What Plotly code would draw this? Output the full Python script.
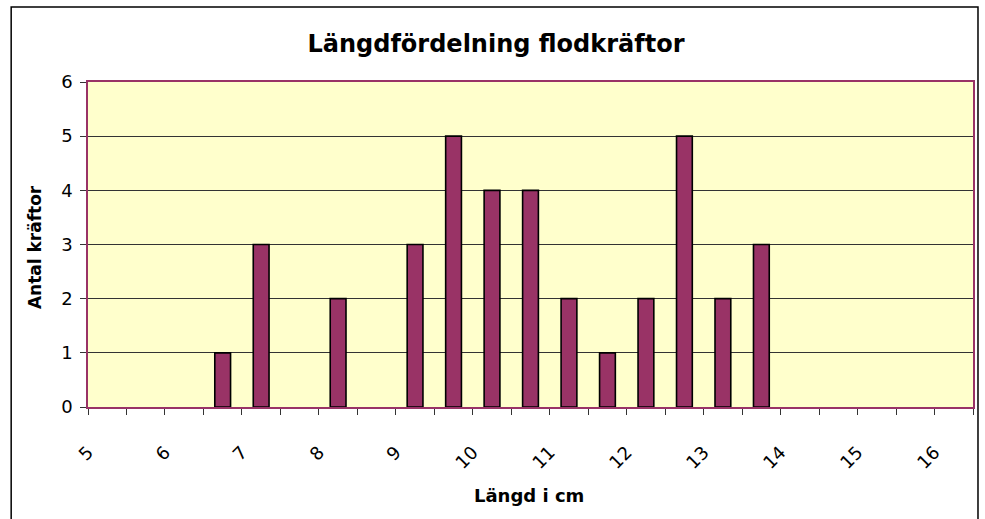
import plotly.graph_objects as go

# Bin start (cm) of each 0.5 cm length class
bin_start = [5.0, 5.5, 6.0, 6.5, 7.0, 7.5, 8.0, 8.5, 9.0, 9.5, 10.0, 10.5,
             11.0, 11.5, 12.0, 12.5, 13.0, 13.5, 14.0, 14.5, 15.0, 15.5, 16.0]
counts = [0, 0, 0, 1, 3, 0, 2, 0, 3, 5, 4, 4,
          2, 1, 2, 5, 2, 3, 0, 0, 0, 0, 0]
x_tick_vals = [5, 6, 7, 8, 9, 10, 11, 12, 13, 14, 15, 16]
x_tick_text = ["5", "6", "7", "8", "9", "10", "11", "12", "13", "14", "15", "16"]
y_ticks = [0, 1, 2, 3, 4, 5, 6]

title_text = "Längdfördelning flodkräftor"
x_title = "Längd i cm"
y_title = "Antal kräftor"

BAR = "#993366"
FONT = "DejaVu Sans"

fig = go.Figure()
fig.add_trace(go.Bar(
    x=bin_start, y=counts,
    width=0.205, offset=0.1475,
    marker=dict(color=BAR,
                line=dict(color="black",
                          width=[1.6 if c > 0 else 0 for c in counts])),
    hoverinfo="x+y",
))

fig.update_layout(
    width=985, height=519,
    margin=dict(l=88, r=10, t=82, b=112),
    paper_bgcolor="white",
    plot_bgcolor="#FFFFCC",
    showlegend=False,
    title=dict(text="<b>" + title_text + "</b>", x=496 / 985, xanchor="center",
               xref="container", y=1 - 44 / 519, yanchor="middle", yref="container",
               font=dict(family=FONT, size=24, color="black")),
    font=dict(family=FONT, color="black"),
)

fig.update_xaxes(
    range=[5, 16.5],
    tickvals=x_tick_vals, ticktext=x_tick_text,
    tickangle=-45,
    ticks="outside", ticklen=6, tickcolor="#333", tickwidth=1,
    minor=dict(dtick=0.5, tick0=5, ticks="outside", ticklen=6, tickcolor="#333", tickwidth=1, showgrid=False),
    ticklabelstandoff=20,
    tickfont=dict(family=FONT, size=18, color="black"),
    showgrid=False, zeroline=False,
    showline=True, mirror=True, linecolor=BAR, linewidth=1.6,
    fixedrange=True,
)
fig.update_yaxes(
    range=[0, 6], tickvals=y_ticks,
    ticks="outside", ticklen=6, tickcolor="#333", tickwidth=1,
    tickfont=dict(family=FONT, size=18, color="black"),
    ticklabelstandoff=4,
    showgrid=True, gridcolor="#333333", gridwidth=1.2,
    zeroline=False,
    showline=True, mirror=True, linecolor=BAR, linewidth=1.6,
    fixedrange=True,
)

# Axis titles
fig.add_annotation(text="<b>" + x_title + "</b>", xref="paper", yref="paper",
                   x=(530 - 88) / 887, y=(407 - 495) / 325, showarrow=False,
                   xanchor="center", yanchor="middle",
                   font=dict(family=FONT, size=18, color="black"))
fig.add_annotation(text="<b>" + y_title + "</b>", xref="paper", yref="paper",
                   x=(35 - 88) / 887, y=(407 - 247) / 325, showarrow=False,
                   xanchor="center", yanchor="middle", textangle=-90,
                   font=dict(family=FONT, size=17, color="black"))

# Outer chart frame
fig.add_shape(type="rect", xref="paper", yref="paper",
              x0=(11 - 88) / 887, x1=(980 - 88) / 887,
              y0=(407 - 530) / 325, y1=(407 - 7) / 325,
              line=dict(color="black", width=1.5), fillcolor="rgba(0,0,0,0)",
              layer="below")

fig.write_html("out.html", config={"displayModeBar": False},
               post_script="document.body.style.margin='0';document.body.style.overflow='hidden';")
